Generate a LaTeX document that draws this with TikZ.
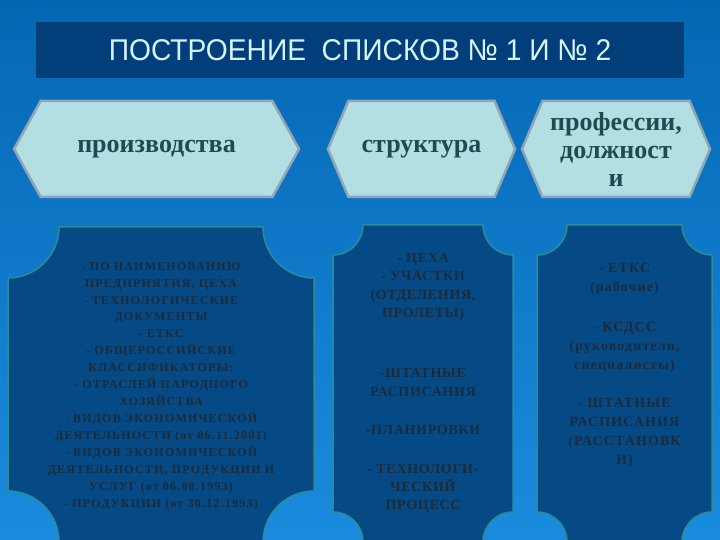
\documentclass[tikz,border=0pt]{standalone}
\usepackage{fontspec}
\setmainfont{Liberation Serif}
\newfontfamily\titlefont{Liberation Sans}
\usetikzlibrary{shapes.symbols}

\definecolor{bgtop}{HTML}{0467B4}
\definecolor{bgbottom}{HTML}{1A8CDE}
\definecolor{titlefill}{HTML}{023F7A}
\definecolor{titletext}{HTML}{D7F3FB}
\definecolor{hexfill}{HTML}{B3DFE3}
\definecolor{hexline}{HTML}{8EA6B5}
\definecolor{hextext}{HTML}{1F4A52}
\definecolor{plaquefill}{HTML}{054A84}
\definecolor{plaqueline}{HTML}{2C8B96}
\definecolor{plaquetext}{HTML}{1B2B3B}

\tikzset{
  hexbox/.style={signal, signal to=west and east, draw=hexline, fill=hexfill,
    line width=2.5pt, minimum height=96pt, inner sep=0pt, text=hextext,
    font=\fontsize{26}{28}\selectfont\bfseries, align=center},
  listtext/.style={text=plaquetext, align=center, inner sep=0pt, anchor=north},
}

% plaque: left, top, right, bottom, corner radius
\newcommand\plaque[5]{%
  \draw[plaqueline, fill=plaquefill, line width=1.5pt]
    (#1+#5,#2) -- (#3-#5,#2) arc[start angle=180, end angle=270, radius=#5pt]
    -- (#3,#4+#5) arc[start angle=90, end angle=180, radius=#5pt]
    -- (#1+#5,#4) arc[start angle=0, end angle=90, radius=#5pt]
    -- (#1,#2-#5) arc[start angle=270, end angle=360, radius=#5pt] -- cycle;}

\begin{document}
\begin{tikzpicture}[x=1pt, y=1pt]
\useasboundingbox (0,0) rectangle (720,-540);
\shade[top color=bgtop, bottom color=bgbottom] (0,0) rectangle (720,-540);

% title
\fill[titlefill] (36,-22) rectangle (684,-78);
\node[text=titletext, font=\titlefont\fontsize{30}{32}\selectfont] (title) at (360,-50)
  {\scalebox{0.94}[1]{ПОСТРОЕНИЕ~~СПИСКОВ №~1 И №~2}};

% headings
\node[hexbox, minimum width=285pt, signal pointer angle=122] (prod) at (156.5,-149) {производства};
\node[hexbox, minimum width=187pt, signal pointer angle=134] (struct) at (421.5,-149) {структура};
\node[hexbox, minimum width=188pt, signal pointer angle=134] (prof) at (616,-149)
  {профессии,\\должност\\и};

% lists
\plaque{8}{-227}{314}{-542}{51}
\plaque{333}{-225}{513}{-542}{30}
\plaque{537}{-225}{712}{-542}{30}

\node[listtext, font=\fontsize{12}{16.93}\selectfont\bfseries\addfontfeature{LetterSpace=10}]
  (prodlist) at (161,-262)
  {- ПО НАИМЕНОВАНИЮ\\ПРЕДПРИЯТИЯ, ЦЕХА\\- ТЕХНОЛОГИЧЕСКИЕ\\ДОКУМЕНТЫ\\- ЕТКС\\
   - ОБЩЕРОССИЙСКИЕ\\КЛАССИФИКАТОРЫ:\\- ОТРАСЛЕЙ НАРОДНОГО\\ХОЗЯЙСТВА\\
   - ВИДОВ ЭКОНОМИЧЕСКОЙ\\ДЕЯТЕЛЬНОСТИ (от 06.11.2001)\\- ВИДОВ ЭКОНОМИЧЕСКОЙ\\
   ДЕЯТЕЛЬНОСТИ, ПРОДУКЦИИ И\\УСЛУГ (от 06.08.1993)\\- ПРОДУКЦИИ (от 30.12.1993)};
\node[listtext, font=\fontsize{14}{18.4}\selectfont\bfseries\addfontfeature{LetterSpace=5}]
  (structlist) at (423,-253)
  {- ЦЕХА\\- УЧАСТКИ\\(ОТДЕЛЕНИЯ,\\ПРОЛЕТЫ)\\[41.6pt]-ШТАТНЫЕ\\РАСПИСАНИЯ\\[19.6pt]
   -ПЛАНИРОВКИ\\[20.6pt]- ТЕХНОЛОГИ-\\ЧЕСКИЙ\\ПРОЦЕСС};
\node[listtext, font=\fontsize{14}{19}\selectfont\bfseries\addfontfeature{LetterSpace=8}]
  (proflist) at (624.5,-263)
  {- ЕТКС\\(рабочие)\\[21pt]- КСДСС\\(руководители,\\специалисты)\\[19pt]
   - ШТАТНЫЕ\\РАСПИСАНИЯ\\(РАССТАНОВК\\И)};
\end{tikzpicture}
\end{document}
